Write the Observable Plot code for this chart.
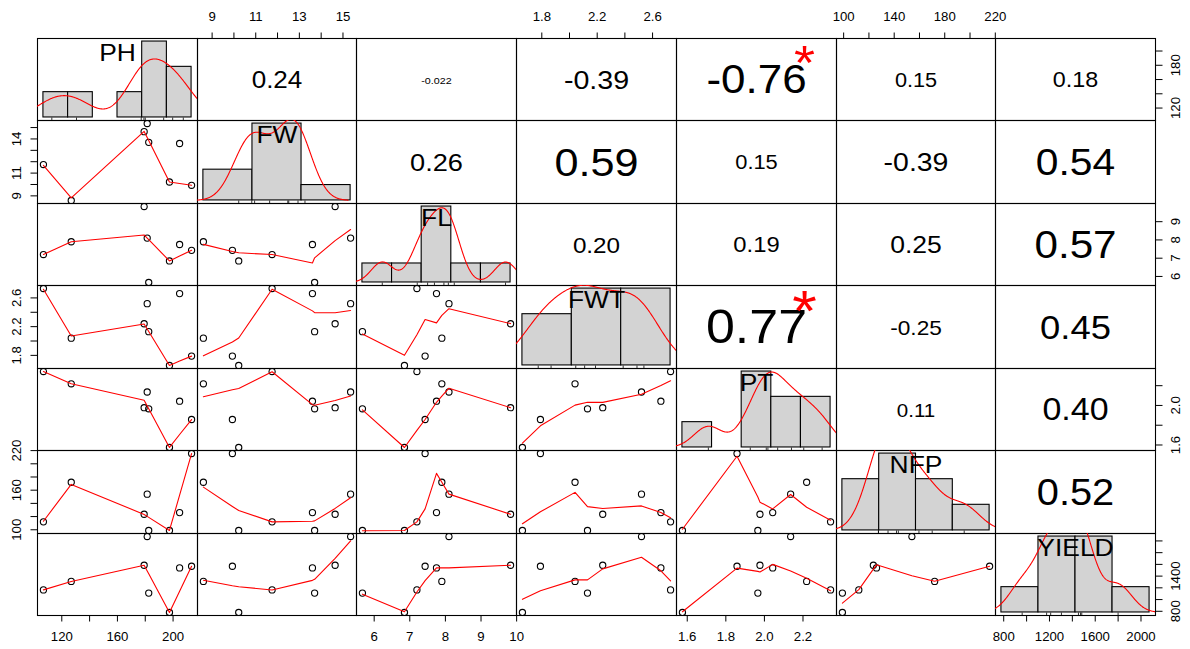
<!DOCTYPE html>
<html>
<head>
<meta charset="utf-8">
<script src="https://cdn.jsdelivr.net/npm/d3@7"></script>
<script src="https://cdn.jsdelivr.net/npm/@observablehq/plot@0.6"></script>
<style>
  html, body { margin: 0; padding: 0; background: #fff; }
  #chart { width: 1190px; height: 649px; }
</style>
</head>
<body>
<div id="chart"></div>
<script>
const variables = ["PH", "FW", "FL", "FWT", "PT", "NFP", "YIELD"];
const PH    = [106.8, 126.8, 179.2, 181.4, 182.5, 197.4, 204.7, 213.3];
const FW    = [11.75, 8.6, 14.64, 15.35, 13.7, 10.22, 13.6, 9.93];
const FL    = [7.2, 7.9, 9.83, 8.1, 5.67, 6.85, 7.75, 7.43];
const FWT   = [2.73, 2.04, 2.24, 2.52, 2.13, 1.66, 2.66, 1.79];
const PT    = [2.343, 2.219, 1.977, 2.136, 1.966, 1.575, 2.043, 1.858];
const NFP   = [112, 172, 123.5, 154, 99, 99, 126, 215.5];
const YIELD = [1165, 1310, 1585, 2075, 1110, 780, 1540, 1568];

// histogram breaks (diagonal panels)
const phBreaks    = [100, 120, 140, 160, 180, 200, 220];
const fwBreaks    = [5, 10, 15, 20];
const flBreaks    = [5, 6, 7, 8, 9, 10];
const fwtBreaks   = [1.5, 2.0, 2.5, 3.0];
const ptBreaks    = [1.4, 1.6, 1.8, 2.0, 2.2, 2.4];
const nfpBreaks   = [50, 100, 150, 200, 250];
const yieldBreaks = [500, 1000, 1500, 2000, 2500];

// correlations shown in the upper panels
const corRow   = [0,0,0,0,0,0, 1,1,1,1,1, 2,2,2,2, 3,3,3, 4,4, 5];
const corCol   = [1,2,3,4,5,6, 2,3,4,5,6, 3,4,5,6, 4,5,6, 5,6, 6];
const corValue = [0.24,-0.022,-0.39,-0.76,0.15,0.18, 0.26,0.59,0.15,-0.39,0.54, 0.20,0.19,0.25,0.57, 0.77,-0.25,0.45, 0.11,0.40, 0.52];
const corText  = ["0.24","-0.022","-0.39","-0.76","0.15","0.18", "0.26","0.59","0.15","-0.39","0.54", "0.20","0.19","0.25","0.57", "0.77","-0.25","0.45", "0.11","0.40", "0.52"];
const corStars = ["","","","*","","", "","","","","", "","","","", "*","","", "","", ""];

// axis ticks and labels
const phTicks = [120, 140, 160, 180, 200];
const phBottomLabels = ["120", "", "160", "", "200"];
const phRightLabels  = ["120", "", "", "180", ""];
const fwTicks = [9, 10, 11, 12, 13, 14, 15];
const fwTopLabels  = ["9", "", "11", "", "13", "", "15"];
const fwLeftLabels = ["9", "", "11", "", "", "14", ""];
const flBottomTicks  = [6, 7, 8, 9, 10];
const flBottomLabels = ["6", "7", "8", "9", "10"];
const flRightTicks   = [6, 7, 8, 9];
const flRightLabels  = ["6", "7", "8", "9"];
const fwtTicks = [1.8, 2.0, 2.2, 2.4, 2.6];
const fwtTopLabels  = ["1.8", "", "2.2", "", "2.6"];
const fwtLeftLabels = ["1.8", "", "2.2", "", "2.6"];
const ptTicks = [1.6, 1.8, 2.0, 2.2];
const ptBottomLabels = ["1.6", "1.8", "2.0", "2.2"];
const ptRightLabels  = ["1.6", "", "2.0", ""];
const nfpTicks = [100, 120, 140, 160, 180, 200, 220];
const nfpTopLabels  = ["100", "", "140", "", "180", "", "220"];
const nfpLeftLabels = ["100", "", "", "160", "", "", "220"];
const yieldTicks = [800, 1000, 1200, 1400, 1600, 1800, 2000];
const yieldBottomLabels = ["800", "", "1200", "", "1600", "", "2000"];
const yieldRightLabels  = ["800", "", "", "1400", "", "", ""];

// ---------------- assembly ----------------
const values = [PH, FW, FL, FWT, PT, NFP, YIELD];
const breaks = [phBreaks, fwBreaks, flBreaks, fwtBreaks, ptBreaks, nfpBreaks, yieldBreaks];
const topAxes    = {1: [fwTicks, fwTopLabels], 3: [fwtTicks, fwtTopLabels], 5: [nfpTicks, nfpTopLabels]};
const bottomAxes = {0: [phTicks, phBottomLabels], 2: [flBottomTicks, flBottomLabels], 4: [ptTicks, ptBottomLabels], 6: [yieldTicks, yieldBottomLabels]};
const leftAxes   = {1: [fwTicks, fwLeftLabels], 3: [fwtTicks, fwtLeftLabels], 5: [nfpTicks, nfpLeftLabels]};
const rightAxes  = {0: [phTicks, phRightLabels], 2: [flRightTicks, flRightLabels], 4: [ptTicks, ptRightLabels], 6: [yieldTicks, yieldRightLabels]};

const FONT = "'Liberation Sans', Arial, Helvetica, sans-serif";
const STRETCH = 1.1;
const colX = [37, 197, 356, 516, 676, 836, 995, 1155];
const rowY = [38, 120, 203, 285, 368, 450, 533, 615];
const M = 40;

// R's lowess (clowess)
function lowess(xIn, yIn, f = 2/3, nsteps = 3) {
  const idx = d3.range(xIn.length).sort((a, b) => xIn[a] - xIn[b]);
  const x = idx.map(i => xIn[i]), y = idx.map(i => yIn[i]);
  const n = x.length;
  const delta = 0.01 * (x[n - 1] - x[0]);
  const ys = new Array(n).fill(0), rw = new Array(n).fill(1), res = new Array(n).fill(0), w = new Array(n).fill(0);
  const ns = Math.max(2, Math.min(n, Math.floor(f * n + 1e-7)));
  const fcube = v => v * v * v;
  const range = x[n - 1] - x[0];
  function lowest(xs, nleft, nright, userw) {
    const h = Math.max(xs - x[nleft], x[nright] - xs);
    const h9 = 0.999 * h, h1 = 0.001 * h;
    let a = 0, j = nleft;
    while (j < n) {
      w[j] = 0;
      const r = Math.abs(x[j] - xs);
      if (r <= h9) {
        w[j] = r <= h1 ? 1 : fcube(1 - fcube(r / h));
        if (userw) w[j] *= rw[j];
        a += w[j];
      } else if (x[j] > xs) break;
      j++;
    }
    const nrt = j - 1;
    if (a <= 0) return null;
    for (j = nleft; j <= nrt; j++) w[j] /= a;
    if (h > 0) {
      a = 0;
      for (j = nleft; j <= nrt; j++) a += w[j] * x[j];
      let b = xs - a, c = 0;
      for (j = nleft; j <= nrt; j++) c += w[j] * (x[j] - a) * (x[j] - a);
      if (Math.sqrt(c) > 0.001 * range) {
        b /= c;
        for (j = nleft; j <= nrt; j++) w[j] *= (b * (x[j] - a) + 1);
      }
    }
    let v = 0;
    for (j = nleft; j <= nrt; j++) v += w[j] * y[j];
    return v;
  }
  let iter = 1;
  while (iter <= nsteps + 1) {
    let nleft = 0, nright = ns - 1, last = -1, i = 0;
    for (;;) {
      if (nright < n - 1) {
        const d1 = x[i] - x[nleft], d2 = x[nright + 1] - x[i];
        if (d1 > d2) { nleft++; nright++; continue; }
      }
      const v = lowest(x[i], nleft, nright, iter > 1);
      ys[i] = v === null ? y[i] : v;
      if (last < i - 1) {
        const denom = x[i] - x[last];
        for (let j = last + 1; j < i; j++) {
          const alpha = (x[j] - x[last]) / denom;
          ys[j] = alpha * ys[i] + (1 - alpha) * ys[last];
        }
      }
      last = i;
      const cut = x[last] + delta;
      for (i = last + 1; i < n; i++) {
        if (x[i] > cut) break;
        if (x[i] === x[last]) { ys[i] = ys[last]; last = i; }
      }
      i = Math.max(last + 1, i - 1);
      if (last >= n - 1) break;
    }
    for (let k = 0; k < n; k++) res[k] = y[k] - ys[k];
    let sc = 0; for (let k = 0; k < n; k++) sc += Math.abs(res[k]); sc /= n;
    if (iter > nsteps) break;
    const sorted = res.map(v => Math.abs(v)).sort((a, b) => a - b);
    const m1 = Math.floor(n / 2);
    const cmad = n % 2 === 0 ? 3 * (sorted[m1] + sorted[n - m1 - 1]) : 6 * sorted[m1];
    if (cmad < 1e-7 * sc) break;
    const c9 = 0.999 * cmad, c1 = 0.001 * cmad;
    for (let k = 0; k < n; k++) {
      const r = Math.abs(res[k]);
      rw[k] = r <= c1 ? 1 : r <= c9 ? (1 - (r / cmad) ** 2) ** 2 : 0;
    }
    iter++;
  }
  return x.map((xv, k) => ({x: xv, y: ys[k]}));
}

// R's density() with bw.nrd0, gaussian kernel
function density(v) {
  const n = v.length;
  const sd = d3.deviation(v);
  const iqr = d3.quantile(v, 0.75) - d3.quantile(v, 0.25);
  let lo = Math.min(sd, iqr / 1.34);
  if (!lo) lo = sd || Math.abs(v[0]) || 1;
  const bw = 0.9 * lo * Math.pow(n, -0.2);
  const [a, b] = d3.extent(v);
  const from = a - 3 * bw, to = b + 3 * bw;
  return d3.range(512).map(k => {
    const x = from + (to - from) * k / 511;
    const y = d3.sum(v, xi => Math.exp(-0.5 * ((x - xi) / bw) ** 2)) / (n * bw * Math.sqrt(2 * Math.PI));
    return {x, y};
  });
}

function extRange(v) {
  const [a, b] = d3.extent(v);
  const r = b - a;
  return [a - 0.04 * r, b + 0.04 * r];
}

const ctx = document.createElement("canvas").getContext("2d");
function emWidth(s) { ctx.font = `100px ${FONT}`; return ctx.measureText(s).width / 100; }

function labelData(ticks, labels) {
  return ticks.map((v, k) => ({v, s: labels[k]})).filter(d => d.s !== "");
}

const centered = {textAnchor: "middle", lineAnchor: "middle", fontSize: 12, fill: "black"};

function axisMarks(i, j) {
  const out = [];
  if (i === 0 && topAxes[j]) {
    const [t, l] = topAxes[j];
    out.push(Plot.axisX(t, {anchor: "top", tickSize: 6.5, tickFormat: () => "", label: null}));
    out.push(Plot.text(labelData(t, l), {x: "v", text: "s", frameAnchor: "top", dy: -21, ...centered}));
  }
  if (i === 6 && bottomAxes[j]) {
    const [t, l] = bottomAxes[j];
    out.push(Plot.axisX(t, {anchor: "bottom", tickSize: 6.5, tickFormat: () => "", label: null}));
    out.push(Plot.text(labelData(t, l), {x: "v", text: "s", frameAnchor: "bottom", dy: 21.5, ...centered}));
  }
  if (j === 0 && leftAxes[i]) {
    const [t, l] = leftAxes[i];
    out.push(Plot.axisY(t, {anchor: "left", tickSize: 6.5, tickFormat: () => "", label: null}));
    out.push(Plot.text(labelData(t, l), {y: "v", text: "s", frameAnchor: "left", dx: -20.5, rotate: -90, ...centered}));
  }
  if (j === 6 && rightAxes[i]) {
    const [t, l] = rightAxes[i];
    out.push(Plot.axisY(t, {anchor: "right", tickSize: 6.5, tickFormat: () => "", label: null}));
    out.push(Plot.text(labelData(t, l), {y: "v", text: "s", frameAnchor: "right", dx: 20.5, rotate: -90, ...centered}));
  }
  return out;
}

function makePlot(xd, yd, pw, ph, marks) {
  return Plot.plot({
    width: pw + 2 * M, height: ph + 2 * M,
    marginTop: M, marginRight: M, marginBottom: M, marginLeft: M,
    x: {domain: xd, axis: null, label: null},
    y: {domain: yd, axis: null, label: null},
    style: `font-family: ${FONT}; font-size: 12px; color: black; overflow: visible;`,
    marks
  });
}

const NS = "http://www.w3.org/2000/svg";
const root = document.createElementNS(NS, "svg");
root.setAttribute("width", 1190);
root.setAttribute("height", 649);
root.setAttribute("viewBox", "0 0 1190 649");
const bg = document.createElementNS(NS, "rect");
bg.setAttribute("width", 1190); bg.setAttribute("height", 649); bg.setAttribute("fill", "white");
root.appendChild(bg);
document.getElementById("chart").appendChild(root);

function place(svg, i, j) {
  svg.removeAttribute("class");
  svg.querySelectorAll("style").forEach(s => s.remove());
  svg.setAttribute("x", colX[j] - M);
  svg.setAttribute("y", rowY[i] - M);
  svg.setAttribute("overflow", "visible");
  root.appendChild(svg);
}

for (let i = 0; i < 7; i++) {
  for (let j = 0; j < 7; j++) {
    const pw = colX[j + 1] - colX[j], ph = rowY[i + 1] - rowY[i];
    const xd = extRange(values[j]), yd = extRange(values[i]);
    const marks = [Plot.frame({stroke: "black", strokeWidth: 1.1})];
    if (i > j) {
      const pts = values[j].map((x, k) => ({x, y: values[i][k]}));
      marks.push(Plot.dot(pts, {x: "x", y: "y", r: 3.1, stroke: "black", fill: "none", strokeWidth: 1.1, clip: true}));
      marks.push(Plot.line(lowess(values[j], values[i]), {x: "x", y: "y", stroke: "red", strokeWidth: 1.1, clip: true}));
    } else if (i < j) {
      const k = corRow.findIndex((r, q) => r === i && corCol[q] === j);
      const r = corValue[k], txt = corText[k];
      const W = 0.96 * 0.8 * pw * (Math.abs(r) + 0.3) / 1.3;
      const fs = W / (emWidth(txt) * STRETCH);
      marks.push(Plot.text([{x: xd[0] + 0.5 * (xd[1] - xd[0]), y: yd[0] + 0.5 * (yd[1] - yd[0]), s: txt}],
        {x: "x", y: "y", text: "s", fontSize: fs, dy: 1, fill: "black", textAnchor: "middle", lineAnchor: "middle"}));
      if (corStars[k]) {
        const sfs = 0.96 * 0.8 * pw / (emWidth(txt) * STRETCH);
        marks.push(Plot.text([{x: xd[0] + 0.8 * (xd[1] - xd[0]), y: yd[0] + 0.8 * (yd[1] - yd[0]), s: corStars[k]}],
          {x: "x", y: "y", text: "s", fontSize: sfs, dy: 0.26 * sfs - 4, fill: "red", textAnchor: "middle", lineAnchor: "middle"}));
      }
    }
    marks.push(...axisMarks(i, j));
    place(makePlot(xd, yd, pw, ph, marks), i, j);

    if (i === j) {
      const v = values[i], br = breaks[i], n = v.length;
      const bins = d3.range(br.length - 1).map(k => {
        const lo = br[k], hi = br[k + 1];
        const c = v.filter(x => (k === 0 ? x >= lo : x > lo) && x <= hi).length;
        return {x1: lo, x2: hi, d: c / (n * (hi - lo))};
      });
      const maxD = d3.max(bins, b => b.d);
      const span = br[br.length - 1] - br[0];
      const hxd = [br[0] - 0.04 * span, br[br.length - 1] + 0.04 * span];
      const hyd = [-0.04 * maxD, 1.04 * maxD];
      const rugLen = 0.03 * Math.min(pw, ph) / ph * (hyd[1] - hyd[0]);
      const hmarks = [
        Plot.rect(bins.filter(b => b.d > 0), {x1: "x1", x2: "x2", y1: 0, y2: "d", fill: "#D3D3D3", stroke: "black", strokeWidth: 1.1}),
        Plot.line(density(v), {x: "x", y: "y", stroke: "red", strokeWidth: 1.1, clip: true}),
        Plot.ruleX(v, {x: d => d, y1: hyd[0], y2: hyd[0] + rugLen, stroke: "black", strokeWidth: 0.8}),
        Plot.text([{x: hxd[0] + 0.5 * (hxd[1] - hxd[0]), y: hyd[0] + (0.5 + 1 / 3) * (hyd[1] - hyd[0]), s: variables[i]}],
          {x: "x", y: "y", text: "s", fontSize: 24, dy: 1, fill: "black", textAnchor: "middle", lineAnchor: "middle"})
      ];
      place(makePlot(hxd, hyd, pw, ph, hmarks), i, j);
    }
  }
}

// horizontal stretch of all text, as in the reference picture
root.querySelectorAll("text").forEach(t => {
  const L = t.getComputedTextLength();
  if (L > 0) {
    t.setAttribute("textLength", (L * STRETCH).toFixed(2));
    t.setAttribute("lengthAdjust", "spacingAndGlyphs");
  }
});
</script>
</body>
</html>
